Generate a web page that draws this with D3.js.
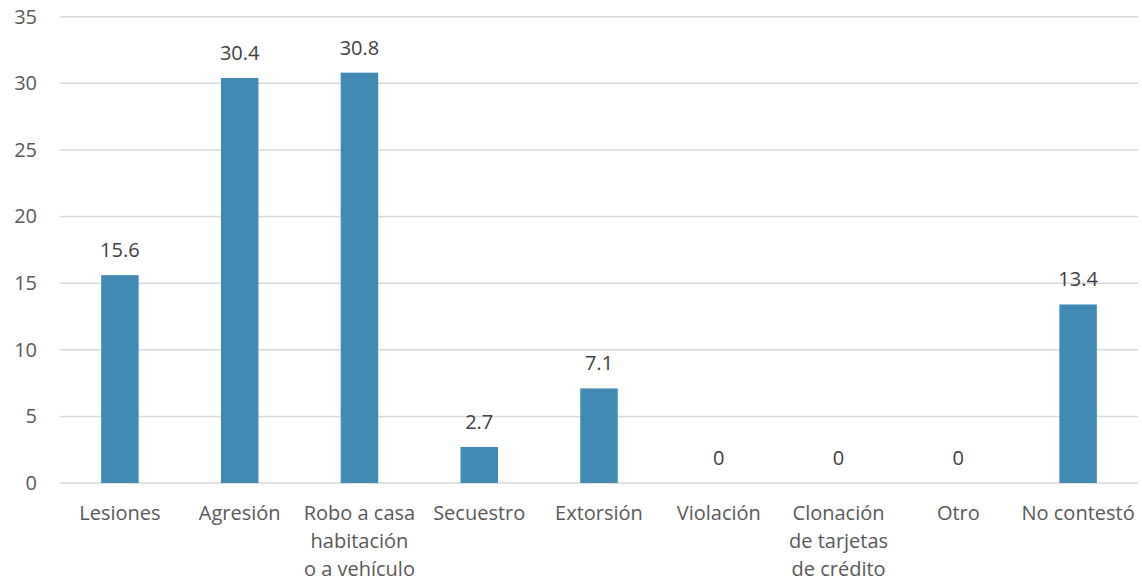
<!DOCTYPE html>
<html><head><meta charset="utf-8">
<script src="https://cdn.jsdelivr.net/npm/d3@7"></script>
<style>body{margin:0;background:#fff;}svg{display:block;font-family:"Open Sans",sans-serif;}</style>
</head><body>
<svg id="c" width="1142" height="581"></svg>
<script>
const categories = ["Lesiones","Agresión","Robo a casa\nhabitación\no a vehículo","Secuestro","Extorsión","Violación","Clonación\nde tarjetas\nde crédito","Otro","No contestó"];
const values = [15.6,30.4,30.8,2.7,7.1,0,0,0,13.4];
const yTicks = [0,5,10,15,20,25,30,35];

const svg = d3.select("#c");
const x = d3.scaleBand().domain(categories).range([60,1138]).paddingInner(0.687).paddingOuter(0.3435);
const y = d3.scaleLinear().domain([0,35]).range([483,16.7]);
const textColor = "#595959";

// gridlines
svg.append("g").selectAll("line").data(yTicks).join("line")
  .attr("x1",60).attr("x2",1138)
  .attr("y1",d=>y(d)).attr("y2",d=>y(d))
  .attr("stroke","#d9d9d9").attr("stroke-width",1.5);

// y axis labels
const yAxis = d3.axisLeft(y).tickValues(yTicks).tickSize(0).tickPadding(0);
const gy = svg.append("g").attr("transform","translate(37,0)").call(yAxis);
gy.select(".domain").remove();
gy.selectAll("text").attr("fill",textColor).style("font-size","20px").style("font-family","Open Sans");

// bars
svg.append("g").selectAll("rect").data(values).join("rect")
  .attr("x",(d,i)=>x(categories[i]))
  .attr("width",x.bandwidth())
  .attr("y",d=>y(d))
  .attr("height",d=>y(0)-y(d))
  .attr("fill","#418ab3");

// data labels
svg.append("g").selectAll("text").data(values).join("text")
  .attr("x",(d,i)=>x(categories[i])+x.bandwidth()/2)
  .attr("y",d=>y(d)-18)
  .attr("text-anchor","middle")
  .attr("fill","#404040")
  .style("font-size","20px")
  .text(d=>d);

// x labels
const gx = svg.append("g");
categories.forEach((c,i)=>{
  const t = gx.append("text")
    .attr("x",x(c)+x.bandwidth()/2)
    .attr("y",520)
    .attr("text-anchor","middle")
    .attr("fill",textColor)
    .style("font-size","20px");
  c.split("\n").forEach((line,j)=>{
    t.append("tspan").attr("x",x(c)+x.bandwidth()/2).attr("dy",j===0?0:28).text(line);
  });
});
</script>
</body></html>
